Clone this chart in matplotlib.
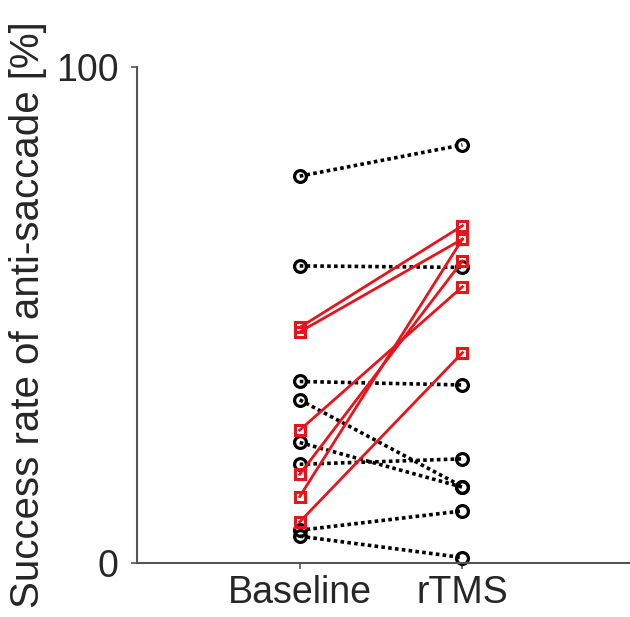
import numpy as np
import matplotlib.pyplot as plt

plt.rcParams['font.family'] = ['Liberation Sans', 'DejaVu Sans']

# group positions and labels
conditions = ['Baseline', 'rTMS']
xpos = [1, 2]

# subjects without improvement (black, dotted)
black_base = [78.0, 59.9, 36.6, 32.9, 24.3, 19.9, 6.6, 5.4]
black_rtms = [84.3, 59.6, 35.9, 15.4, 15.3, 21.0, 10.5, 1.1]

# subjects with improvement (red, solid)
red_base = [47.5, 46.6, 26.8, 17.9, 13.4, 8.3]
red_rtms = [68.0, 65.3, 55.7, 60.9, 65.3, 42.4]

axis_col = '#262626'

fig = plt.figure(figsize=(6.30, 6.17), dpi=100)
ax = fig.add_axes([0.2175, 0.0875, 0.7825, 0.8039])

for b, r in zip(black_base, black_rtms):
    ax.plot(xpos, [b, r], color='black', linestyle=(0, (1, 0.9)), linewidth=2.6,
            marker='o', markersize=8.5, markerfacecolor='none',
            markeredgewidth=2.3, clip_on=False)

for b, r in zip(red_base, red_rtms):
    ax.plot(xpos, [b, r], color='#e8141c', linestyle='-', linewidth=2.0,
            marker='s', markersize=6.5, markerfacecolor='none',
            markeredgewidth=2.2, clip_on=False)

ax.set_xlim(0, 3.03)
ax.set_ylim(0, 100)
ax.set_xticks(xpos)
ax.set_xticklabels(conditions)
ax.set_yticks([0, 100])
ax.set_ylabel('Success rate of anti-saccade [%]', fontsize=29, color=axis_col,
              labelpad=6)

for side in ['top', 'right']:
    ax.spines[side].set_visible(False)
for side in ['left', 'bottom']:
    ax.spines[side].set_color('#555555')
    ax.spines[side].set_linewidth(1.5)

ax.tick_params(axis='both', direction='out', length=4.5, width=1.2,
               color='#555555', labelsize=27, labelcolor=axis_col)
ax.tick_params(axis='x', pad=4)
ax.tick_params(axis='y', pad=9)

fig.savefig('out.png', dpi=100)
